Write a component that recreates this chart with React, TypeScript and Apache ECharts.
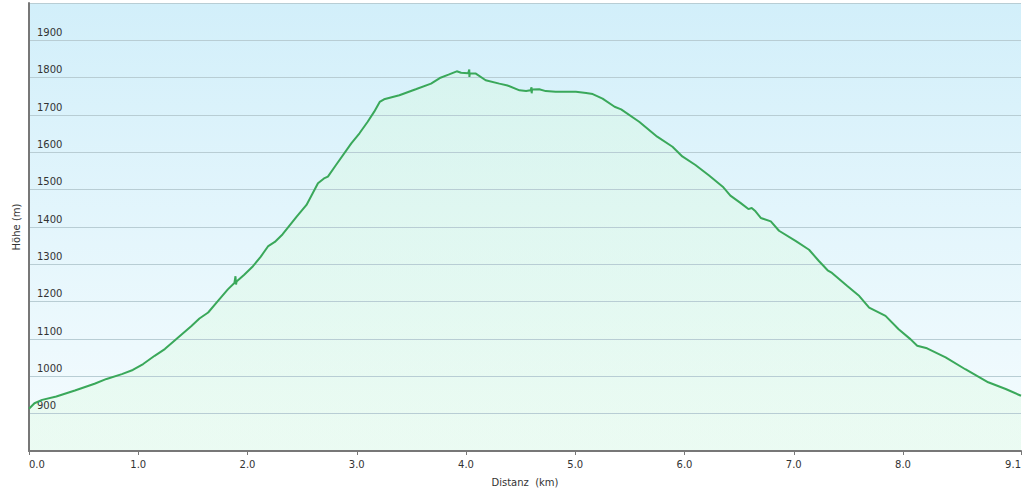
import React, { useEffect, useRef } from "react";
import * as echarts from "echarts";

const distanceKm = [
  0.0, 0.05, 0.12, 0.25, 0.42, 0.6, 0.71, 0.85, 0.95, 1.045, 1.15, 1.243, 1.365, 1.487, 1.56, 1.64, 1.73, 1.82,
  1.88, 1.89, 1.895, 1.9, 1.97, 2.05, 2.12, 2.19, 2.25, 2.32, 2.45, 2.54, 2.645, 2.7, 2.736, 2.81, 2.95, 3.025, 3.1,
  3.16, 3.21, 3.25, 3.39, 3.54, 3.68, 3.76, 3.84, 3.915, 3.955, 4.02, 4.03, 4.031, 4.035, 4.09, 4.18, 4.305,
  4.38, 4.49, 4.55, 4.59, 4.6, 4.601, 4.605, 4.67, 4.73, 4.82, 5.006, 5.1, 5.16, 5.25, 5.36, 5.42, 5.585, 5.75, 5.89,
  5.98, 6.1, 6.225, 6.35, 6.42, 6.515, 6.585, 6.615, 6.65, 6.7, 6.79, 6.865, 7.02, 7.14, 7.23, 7.31, 7.35,
  7.49, 7.6, 7.69, 7.84, 7.96, 8.07, 8.13, 8.22, 8.39, 8.57, 8.78, 8.94, 9.08,
];

const elevationM = [
  913, 928, 937, 946, 962, 980, 993, 1006, 1017, 1033, 1055, 1073, 1104, 1135, 1155, 1171, 1202, 1233,
  1250, 1268, 1246, 1254, 1272, 1295, 1320, 1349, 1360, 1380, 1428, 1459, 1517, 1530, 1535, 1566, 1624, 1651, 1682,
  1709, 1735, 1742, 1753, 1769, 1784, 1799, 1808, 1817, 1813, 1812, 1822, 1802, 1812, 1811, 1793, 1784,
  1779, 1766, 1764, 1766, 1774, 1758, 1768, 1769, 1764, 1762, 1762, 1759, 1756, 1744, 1722, 1715, 1682, 1642, 1615,
  1589, 1566, 1538, 1508, 1484, 1464, 1448, 1451, 1442, 1424, 1415, 1390, 1362, 1339, 1309, 1284, 1277,
  1242, 1215, 1184, 1162, 1126, 1099, 1082, 1075, 1051, 1019, 984, 966, 948,
];

const xTickValues = [0, 1, 2, 3, 4, 5, 6, 7, 8, 9.08];
const yHiddenLabels = [800, 2000];
const yAxisTitle = "Höhe (m)";
const xAxisTitle = "Distanz  (km)";

export default function App() {
  const ref = useRef<HTMLDivElement>(null);

  useEffect(() => {
    if (!ref.current) return;
    const chart = echarts.init(ref.current, undefined, { renderer: "svg" });
    const font = "DejaVu Sans, Verdana, sans-serif";
    const points = distanceKm.map((d, i) => [d, elevationM[i]]);
    chart.setOption({
      animation: false,
      backgroundColor: "#ffffff",
      grid: {
        left: 29,
        top: 3,
        right: 2,
        bottom: 38,
        show: true,
        borderWidth: 0,
        backgroundColor: new echarts.graphic.LinearGradient(0, 0, 0, 1, [
          { offset: 0, color: "#d2effa" },
          { offset: 1, color: "#f5fcfe" },
        ]),
      },
      xAxis: {
        type: "value",
        min: 0,
        max: 9.08,
        z: 5,
        name: xAxisTitle,
        nameLocation: "middle",
        nameGap: 26,
        nameTextStyle: { color: "#333", fontFamily: font, fontSize: 10 },
        axisLine: { show: true, onZero: false, lineStyle: { color: "#777", width: 2 } },
        axisTick: {
          show: true,
          length: 4,
          customValues: xTickValues,
          lineStyle: { color: "#777", width: 1 },
        },
        axisLabel: {
          customValues: xTickValues,
          formatter: (v: number) => v.toFixed(1),
          color: "#333",
          fontFamily: font,
          fontSize: 10,
          margin: 8,
          alignMinLabel: "left",
          alignMaxLabel: "right",
        },
        splitLine: { show: false },
      },
      yAxis: {
        type: "value",
        min: 800,
        max: 2000,
        interval: 100,
        z: 1,
        name: yAxisTitle,
        nameLocation: "middle",
        nameGap: 4,
        nameTextStyle: { color: "#333", fontFamily: font, fontSize: 10 },
        axisLine: { show: true, lineStyle: { color: "#777", width: 2 } },
        axisTick: { show: false },
        axisLabel: {
          inside: true,
          showMinLabel: true,
          showMaxLabel: true,
          hideOverlap: false,
          formatter: (v: number) => (yHiddenLabels.includes(v) ? "" : String(v)),
          margin: 8,
          verticalAlign: "bottom",
          padding: [0, 0, 3, 0],
          color: "#333",
          fontFamily: font,
          fontSize: 10,
        },
        splitLine: { show: true, lineStyle: { color: "#b8cdd4", width: 1 } },
      },
      series: [
        {
          type: "line",
          data: points,
          showSymbol: false,
          symbol: "none",
          lineStyle: { width: 0, opacity: 0 },
          areaStyle: {
            color: new echarts.graphic.LinearGradient(0, 0, 0, 1, [
              { offset: 0, color: "rgba(216,251,217,0.32)" },
              { offset: 1, color: "rgba(220,250,225,0.4)" },
            ]),
            opacity: 1,
          },
          z: 0,
        },
        {
          type: "line",
          data: points,
          showSymbol: false,
          symbol: "none",
          lineStyle: { color: "#3aa85a", width: 2 },
          z: 3,
        },
      ],
    });
    return () => chart.dispose();
  }, []);

  return (
    <div
      ref={ref}
      style={{ position: "absolute", left: 0, top: 0, width: 1024, height: 492 }}
    />
  );
}
